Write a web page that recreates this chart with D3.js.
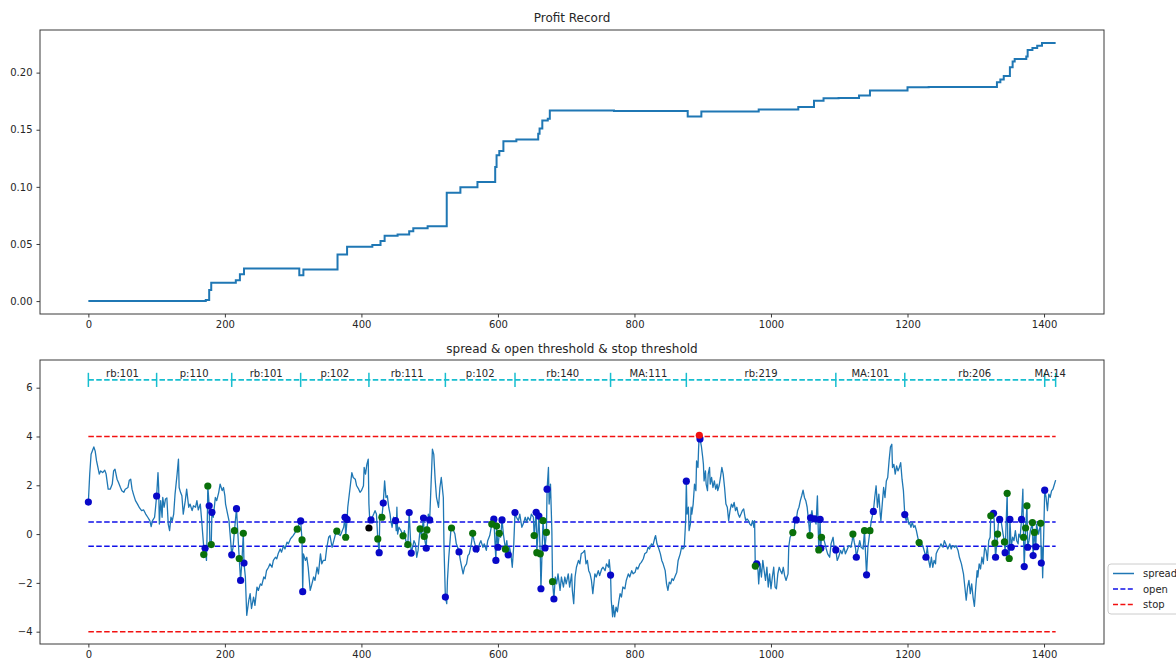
<!DOCTYPE html>
<html>
<head>
<meta charset="utf-8">
<script src="https://cdn.jsdelivr.net/npm/d3@7"></script>
<style>
  body { margin: 0; background: #fff; }
  svg { display: block; font-family: "DejaVu Sans", sans-serif; }
</style>
</head>
<body>
<svg id="chart" width="1176" height="661"></svg>
<script>
// ---- cumulative profit (step changes: bar index -> profit level) ----
const profitIdx = [0, 172, 177, 180, 216, 222, 228, 309, 315, 365, 379, 416, 428, 434, 453, 470, 476, 497,
  525, 545, 570, 596, 598, 602, 608, 627, 659, 661, 665, 673, 676, 770, 878, 898, 982, 1040, 1063, 1077,
  1099, 1129, 1145, 1200, 1231, 1331, 1336, 1341, 1350, 1354, 1357, 1374, 1376, 1383, 1390, 1397, 1417];
const profitVal = [0, 0.001, 0.0096, 0.016, 0.0183, 0.0236, 0.0285, 0.0227, 0.0277, 0.0408, 0.0475, 0.049,
  0.0527, 0.0571, 0.0582, 0.0611, 0.0638, 0.0655, 0.0949, 0.0996, 0.1043, 0.1174, 0.1276, 0.1313, 0.140,
  0.1415, 0.1465, 0.151, 0.158, 0.1596, 0.1669, 0.1663, 0.1616, 0.166, 0.1677, 0.170, 0.1753, 0.1776,
  0.1778, 0.180, 0.1843, 0.1872, 0.1875, 0.1916, 0.1939, 0.1971, 0.2047, 0.2097, 0.212, 0.214, 0.2199,
  0.2216, 0.2236, 0.226, 0.226];

// ---- spread series: [bar index, spread] ----
const spread = [
  [0,1.31],[2,2.46],[4,3.27],[8,3.57],[10,3.4],[12,3.0],[14,2.73],[16,2.46],[18,2.59],[21,2.52],[24,2.62],
  [26,2.46],[29,1.84],[32,1.84],[35,2.05],[37,2.59],[39,2.66],[42,2.25],[44,2.12],[47,1.91],[49,1.78],
  [52,1.71],[54,1.84],[58,1.91],[60,2.21],[62,2.25],[64,1.84],[66,1.64],[69,1.37],[72,1.23],[75,1.07],
  [78,0.96],[81,0.99],[84,0.82],[87,0.69],[90,0.55],[92,0.31],[94,0.55],[97,0.69],[98,0.96],[100,1.56],
  [102,2.52],[103,1.91],[104,0.41],[106,1.37],[108,0.69],[109,1.5],[111,1.1],[113,1.44],[115,1.48],
  [117,0.41],[119,0.14],[121,0.69],[123,0.55],[125,0.82],[127,1.64],[130,2.46],[132,3.07],[133,1.91],
  [135,1.71],[137,1.57],[139,0.82],[142,1.37],[144,1.84],[147,1.1],[149,1.23],[152,0.96],[154,1.16],
  [157,1.1],[159,1.37],[161,0.99],[164,1.23],[166,0.55],[169,-0.54],[171,-0.58],[173,-1.08],[174,0.14],
  [175,1.97],[177,1.16],[178,-0.4],[180,-0.43],[181,0.89],[183,0.69],[186,1.5],[188,1.37],[191,1.71],
  [193,2.05],[196,1.78],[198,1.91],[200,1.57],[201,1.23],[204,0.82],[206,0.55],[208,-0.13],[210,-0.85],
  [212,-0.54],[214,0.14],[217,1.04],[218,0.55],[221,-1.0],[223,-1.9],[225,-1.08],[227,0.03],[228,-1.19],
  [230,-1.76],[232,-3.33],[235,-2.72],[237,-2.44],[239,-3.05],[242,-2.58],[244,-2.92],[247,-2.17],
  [249,-2.31],[252,-2.04],[254,-2.1],[257,-1.76],[259,-1.83],[261,-1.5],[264,-1.36],[266,-1.22],
  [269,-1.36],[271,-1.08],[274,-0.95],[276,-1.01],[278,-0.81],[281,-0.61],[283,-0.74],[286,-0.47],
  [288,-0.61],[291,-0.33],[293,-0.4],[296,-0.2],[298,-0.13],[300,-0.06],[303,0.07],[306,0.2],[308,0.35],
  [311,0.54],[313,-0.24],[314,-2.36],[315,-0.81],[318,-1.08],[320,-0.95],[322,-1.36],[325,-2.31],
  [327,-2.1],[330,-1.76],[332,-1.9],[335,-1.36],[337,-1.63],[340,-0.81],[342,-1.22],[344,-1.08],
  [347,-1.08],[349,-0.61],[352,-0.13],[354,-0.06],[357,-0.54],[359,-0.33],[362,0.0],[364,0.12],[366,0.0],
  [369,-0.06],[371,0.07],[374,0.28],[376,0.69],[377,-0.13],[379,0.6],[380,1.1],[384,2.05],[386,2.52],
  [388,2.32],[391,2.25],[393,1.98],[396,1.84],[398,1.71],[400,1.78],[403,1.98],[404,2.73],[406,2.46],
  [408,2.86],[410,3.07],[411,1.23],[412,0.69],[414,0.58],[416,0.69],[418,0.82],[420,0.96],[422,0.82],
  [424,-0.2],[426,-0.76],[427,0.82],[430,0.69],[432,1.27],[434,2.18],[436,1.5],[438,1.57],[440,1.1],
  [442,0.82],[443,0.55],[445,0.28],[447,0.69],[450,0.55],[451,0.14],[452,1.1],[453,0.0],[455,0.28],
  [458,0.14],[461,-0.07],[463,0.14],[465,-0.27],[468,-0.43],[470,0.88],[472,-0.27],[473,-0.78],
  [475,-0.54],[477,-0.27],[479,-0.4],[481,-0.95],[483,-0.67],[486,0.21],[488,-0.06],[491,0.66],[492,-0.1],
  [495,-0.58],[496,0.17],[498,0.82],[500,0.58],[503,2.73],[504,3.48],[506,3.27],[508,2.25],[510,1.5],
  [513,1.1],[515,1.91],[517,2.32],[518,2.05],[520,1.5],[521,-0.54],[523,-2.58],[525,-2.85],[526,-1.9],
  [528,-0.95],[531,0.14],[532,0.25],[535,0.14],[537,0.0],[539,-0.4],[541,-0.54],[543,-0.73],[545,-1.08],
  [547,-1.36],[549,-1.63],[551,-1.36],[554,-1.22],[556,-0.88],[558,-0.81],[561,-0.4],[563,0.03],
  [565,-0.27],[568,-0.61],[570,-0.74],[573,-0.4],[575,-0.27],[578,-0.54],[580,-0.4],[583,-0.67],
  [585,-0.27],[588,-0.06],[591,0.41],[594,0.61],[597,-1.08],[598,0.33],[600,-0.54],[602,0.03],[604,-0.13],
  [606,0.58],[608,0.0],[611,-0.62],[613,-0.27],[615,-0.85],[617,-0.54],[619,-0.81],[621,-1.36],[623,-0.54],
  [625,0.88],[627,0.69],[630,0.55],[632,0.82],[635,0.28],[637,0.41],[640,0.69],[642,0.48],[644,0.69],
  [647,0.55],[649,0.82],[652,0.69],[653,-0.06],[656,0.89],[657,-0.76],[660,0.74],[662,-0.81],[663,-2.24],
  [666,0.55],[669,-0.57],[671,0.07],[672,1.84],[674,2.73],[675,1.23],[677,2.05],[679,0.14],[680,-1.95],
  [682,-2.66],[684,-1.76],[686,-2.04],[688,-1.63],[691,-2.31],[693,-1.76],[696,-2.17],[698,-1.76],
  [700,-2.04],[703,-1.63],[705,-2.17],[708,-1.63],[709,-2.31],[711,-2.85],[713,-1.76],[715,-1.36],
  [718,-1.08],[720,-1.22],[722,-0.81],[725,-0.74],[727,-0.67],[729,-1.22],[731,-1.08],[733,-1.5],
  [735,-1.63],[737,-1.9],[739,-2.44],[741,-1.9],[742,-1.63],[744,-1.76],[747,-1.5],[749,-1.7],[752,-1.43],
  [754,-1.36],[757,-1.5],[759,-1.22],[762,-1.36],[763,-1.05],[764,-1.36],[765,-1.68],[766,-2.71],
  [768,-3.39],[769,-2.92],[771,-3.39],[773,-2.99],[775,-3.19],[777,-2.78],[779,-2.44],[781,-2.58],
  [783,-2.17],[786,-2.24],[788,-1.9],[791,-1.63],[793,-1.76],[796,-1.5],[798,-1.63],[801,-1.56],
  [803,-1.36],[805,-1.43],[808,-1.22],[810,-1.16],[813,-1.01],[815,-0.81],[818,-0.74],[820,-0.54],
  [822,-0.61],[825,-0.4],[827,-0.47],[830,-0.13],[831,-0.06],[833,-0.4],[835,-0.54],[838,-0.81],
  [840,-1.08],[842,-1.22],[845,-1.5],[847,-2.04],[849,-2.31],[851,-1.97],[853,-2.04],[855,-1.83],
  [857,-1.9],[860,-1.7],[862,-1.56],[864,-1.08],[867,-0.81],[869,-0.54],[871,-0.61],[873,-0.54],[875,0.55],
  [876,2.17],[877,0.82],[879,1.1],[880,0.14],[882,0.41],[883,1.1],[884,0.82],[886,1.23],[888,2.05],
  [890,1.78],[891,3.0],[893,2.73],[894,3.54],[895,4.05],[896,3.9],[898,3.61],[900,3.14],[901,2.86],
  [902,2.18],[904,2.59],[905,2.05],[907,1.78],[908,2.46],[910,2.73],[911,2.05],[913,2.32],[915,1.91],
  [917,2.18],[919,1.84],[921,2.05],[922,1.78],[924,1.98],[926,2.32],[928,2.73],[930,2.46],[932,1.91],
  [934,1.23],[936,1.1],[938,0.55],[940,0.96],[942,1.23],[944,1.1],[946,1.3],[948,0.96],[950,1.1],
  [952,0.82],[954,0.69],[956,0.82],[958,0.96],[960,1.03],[962,0.69],[963,0.55],[965,0.62],[967,0.55],
  [969,0.41],[971,0.35],[973,0.55],[975,0.28],[976,0.55],[977,-1.31],[979,-1.22],[981,-1.5],[982,-2.04],
  [984,-1.22],[986,-1.76],[988,-1.08],[990,-1.5],[992,-1.9],[994,-1.36],[996,-2.17],[998,-1.63],
  [1000,-2.24],[1002,-1.76],[1004,-1.36],[1006,-2.17],[1008,-2.24],[1010,-1.63],[1012,-1.36],[1014,-1.5],
  [1016,-1.63],[1018,-1.36],[1020,-1.7],[1022,-1.9],[1025,-1.63],[1026,-0.54],[1028,-0.13],[1032,0.06],
  [1034,0.14],[1035,0.55],[1037,0.58],[1039,0.96],[1041,1.1],[1043,1.37],[1045,1.57],[1047,1.8],
  [1049,1.5],[1051,1.37],[1053,1.1],[1055,0.55],[1057,-0.06],[1058,0.67],[1060,0.96],[1062,0.55],
  [1064,0.62],[1066,0.41],[1068,1.57],[1070,-0.65],[1072,0.6],[1073,-0.58],[1074,-0.13],[1076,-0.13],
  [1078,-0.27],[1081,-0.61],[1083,-0.81],[1086,-0.95],[1088,-0.4],[1091,-0.13],[1093,-0.67],[1095,-0.65],
  [1097,-1.08],[1099,-0.95],[1102,-0.67],[1104,-0.81],[1107,-0.54],[1109,-0.81],[1112,-0.61],[1114,-0.47],
  [1117,-0.54],[1119,-0.27],[1120,0.0],[1122,-0.33],[1124,-0.61],[1125,-0.95],[1128,-0.54],[1130,-0.27],
  [1132,-0.54],[1135,-0.61],[1137,0.14],[1139,-1.08],[1140,-1.67],[1142,-0.54],[1145,0.14],[1147,0.55],
  [1150,0.93],[1152,1.5],[1154,1.98],[1156,1.1],[1158,1.64],[1160,0.82],[1161,0.55],[1163,1.23],
  [1165,1.91],[1167,1.5],[1169,2.18],[1171,2.32],[1173,3.0],[1175,3.57],[1177,3.68],[1178,2.73],
  [1180,2.86],[1182,2.46],[1184,2.79],[1186,2.59],[1188,2.73],[1190,2.93],[1192,2.25],[1194,1.78],
  [1196,0.8],[1198,0.55],[1200,0.69],[1202,0.41],[1203,0.48],[1205,0.28],[1207,0.48],[1209,0.28],
  [1211,0.35],[1213,0.14],[1215,-0.13],[1217,-0.35],[1219,-0.27],[1221,-0.4],[1223,-0.54],[1225,-0.74],
  [1227,-0.95],[1229,-0.54],[1231,-1.08],[1233,-1.36],[1235,-0.95],[1237,-1.36],[1239,-1.08],[1241,-1.22],
  [1242,-0.81],[1244,-0.67],[1247,-0.54],[1249,-0.4],[1252,-0.54],[1254,-0.27],[1257,-0.47],[1259,-0.61],
  [1262,-0.4],[1264,-0.61],[1266,-0.47],[1269,-0.54],[1271,-0.47],[1274,-0.67],[1276,-0.95],[1279,-1.22],
  [1281,-1.5],[1282,-1.63],[1284,-2.17],[1286,-2.71],[1288,-2.17],[1290,-1.9],[1292,-2.44],[1294,-2.04],
  [1296,-2.58],[1298,-2.96],[1300,-2.17],[1302,-1.5],[1303,-1.76],[1305,-1.22],[1307,-1.43],[1309,-0.95],
  [1311,-1.22],[1313,-0.54],[1315,-0.67],[1317,-1.08],[1319,-0.27],[1321,-0.13],[1322,0.75],[1324,0.69],
  [1326,0.85],[1327,0.55],[1328,-0.37],[1329,-0.95],[1332,0.0],[1333,0.41],[1335,0.6],[1337,0.55],
  [1340,0.0],[1342,-0.32],[1343,-0.76],[1346,1.67],[1347,-0.54],[1349,-1.0],[1350,0.6],[1352,-0.54],
  [1354,-0.13],[1356,-0.27],[1358,0.14],[1360,-0.27],[1362,-0.4],[1363,0.0],[1365,-0.13],[1367,0.6],
  [1369,1.84],[1370,-0.13],[1371,-1.33],[1373,0.25],[1375,1.16],[1376,-0.54],[1378,-0.27],[1380,0.14],
  [1383,0.47],[1384,-0.88],[1386,0.07],[1388,-0.52],[1389,0.41],[1392,0.0],[1395,0.44],[1396,-1.19],
  [1397,-0.54],[1398,-1.79],[1400,0.55],[1401,1.8],[1403,1.5],[1405,0.96],[1407,1.64],[1409,1.5],
  [1411,1.77],[1413,1.84],[1417,2.21]
];

// ---- trade events on the spread: [bar index, spread] ----
const openEvents = [[0,1.31],[100,1.56],[171,-0.58],[177,1.16],[181,0.89],[210,-0.85],[217,1.04],[223,-1.9],
  [228,-1.19],[311,0.54],[314,-2.36],[376,0.69],[379,0.6],[414,0.58],[426,-0.76],[432,1.27],[450,0.55],
  [470,0.88],[473,-0.78],[491,0.66],[495,-0.58],[500,0.58],[523,-2.58],[543,-0.73],[568,-0.61],[594,0.61],
  [597,-1.08],[600,-0.54],[606,0.58],[615,-0.85],[625,0.88],[656,0.89],[660,0.74],[663,-2.24],[669,-0.57],
  [672,1.84],[682,-2.66],[765,-1.68],[876,2.17],[896,3.9],[979,-1.22],[1037,0.58],[1058,0.67],[1064,0.62],
  [1072,0.6],[1073,-0.58],[1095,-0.65],[1125,-0.95],[1140,-1.67],[1150,0.93],[1196,0.8],[1227,-0.95],
  [1326,0.85],[1329,-0.95],[1335,0.6],[1343,-0.76],[1350,0.6],[1352,-0.54],[1367,0.6],[1371,-1.33],
  [1376,-0.54],[1384,-0.88],[1388,-0.52],[1396,-1.19],[1401,1.8]];
const closeEvents = [[169,-0.84],[175,1.97],[180,-0.43],[214,0.14],[221,-1.0],[227,0.03],[306,0.2],[313,-0.24],
  [364,0.12],[377,-0.13],[424,-0.2],[430,0.69],[461,-0.07],[468,-0.43],[486,0.21],[492,-0.1],[496,0.17],
  [532,0.25],[563,0.03],[591,0.41],[598,0.33],[602,0.03],[611,-0.62],[653,-0.06],[657,-0.76],[662,-0.81],
  [666,0.55],[671,0.07],[680,-1.95],[977,-1.31],[1032,0.06],[1057,-0.06],[1070,-0.65],[1074,-0.13],
  [1120,0.0],[1137,0.14],[1145,0.14],[1217,-0.35],[1322,0.75],[1328,-0.37],[1332,0.0],[1342,-0.32],
  [1346,1.67],[1349,-1.0],[1370,-0.13],[1373,0.25],[1375,1.16],[1383,0.47],[1386,0.07],[1395,0.44]];
const stopEvents = [[895,4.05]];
const switchEvents = [[411,0.25]];

// ---- contract segments along the top of the spread panel ----
const segBounds = [0, 100, 210, 311, 411, 523, 625, 765, 876, 1095, 1196, 1401, 1417];
const segLabels = ["rb:101", "p:110", "rb:101", "p:102", "rb:111", "p:102", "rb:140",
  "MA:111", "rb:219", "MA:101", "rb:206", "MA:14"];
const segLevel = 6.32;

const openThreshold = 0.5;
const stopThreshold = 4;
const lastIdx = 1417;

const xTicks = [0, 200, 400, 600, 800, 1000, 1200, 1400];
const profitTicks = [0, 0.05, 0.10, 0.15, 0.20];
const spreadTicks = [-4, -2, 0, 2, 4, 6];

// ---------------------------------------------------------------
const svg = d3.select("#chart");
const L = 40, R = 1104;
const top1 = 30, bot1 = 314, top2 = 360, bot2 = 644;
const BLUE = "#1f77b4";
const TXT = "#262626";

const x = d3.scaleLinear().domain([-70.85, 1487.85]).range([L, R]);
const yP = d3.scaleLinear().domain([-0.0113, 0.2373]).range([bot1, top1]);
const yS = d3.scaleLinear().domain([-4.505, 7.135]).range([bot2, top2]);

const minus = v => (v < 0 ? "\u2212" + Math.abs(v) : String(v));

function frame(yTop, yBot) {
  svg.append("rect").attr("x", L).attr("y", yTop).attr("width", R - L).attr("height", yBot - yTop)
    .attr("fill", "none").attr("stroke", "#3a3a3a").attr("stroke-width", 1);
}

function axes(yScale, yBot, yTickVals, yFmt) {
  const gx = svg.append("g").attr("transform", `translate(0,${yBot})`)
    .call(d3.axisBottom(x).tickValues(xTicks).tickSize(3.5).tickPadding(3.5).tickFormat(d => d));
  const gy = svg.append("g").attr("transform", `translate(${L},0)`)
    .call(d3.axisLeft(yScale).tickValues(yTickVals).tickSize(3.5).tickPadding(4).tickFormat(yFmt));
  [gx, gy].forEach(g => {
    g.select(".domain").remove();
    g.selectAll("line").attr("stroke", "#3a3a3a");
    g.selectAll("text").attr("fill", TXT).style("font-size", "10px").style("font-family", "DejaVu Sans");
  });
}

// ---- top panel: profit record ----
svg.append("text").attr("x", (L + R) / 2).attr("y", 22).attr("text-anchor", "middle")
  .style("font-size", "12px").attr("fill", TXT).text("Profit Record");

const profitData = profitIdx.map((d, i) => [d, profitVal[i]]);
svg.append("path").datum(profitData)
  .attr("fill", "none").attr("stroke", BLUE).attr("stroke-width", 2)
  .attr("d", d3.line().x(d => x(d[0])).y(d => yP(d[1])).curve(d3.curveStepAfter));

frame(top1, bot1);
axes(yP, bot1, profitTicks, d3.format(".2f"));

// ---- bottom panel: spread, thresholds and events ----
svg.append("text").attr("x", (L + R) / 2).attr("y", 353).attr("text-anchor", "middle")
  .style("font-size", "12px").attr("fill", TXT).text("spread & open threshold & stop threshold");

const clip = svg.append("clipPath").attr("id", "clip2").append("rect")
  .attr("x", L).attr("y", top2).attr("width", R - L).attr("height", bot2 - top2);
const g2 = svg.append("g").attr("clip-path", "url(#clip2)");

function hDash(v, color, width) {
  g2.append("line").attr("x1", x(0)).attr("x2", x(lastIdx)).attr("y1", yS(v)).attr("y2", yS(v))
    .attr("stroke", color).attr("stroke-width", width).attr("stroke-dasharray", "5.5,2.4");
}
hDash(segLevel, "#17becf", 1.8);
hDash(openThreshold, "#1010e8", 1.5);
hDash(-openThreshold, "#1010e8", 1.5);
hDash(stopThreshold, "#f21010", 1.5);
hDash(-stopThreshold, "#f21010", 1.5);

// segment boundary ticks and contract labels
g2.selectAll(".segtick").data(segBounds).enter().append("line")
  .attr("x1", d => x(d)).attr("x2", d => x(d))
  .attr("y1", yS(segLevel - 0.29)).attr("y2", yS(segLevel + 0.29))
  .attr("stroke", "#17becf").attr("stroke-width", 1.5);
svg.selectAll(".seglabel").data(segLabels).enter().append("text")
  .attr("x", (d, i) => x((segBounds[i] + segBounds[i + 1]) / 2))
  .attr("y", yS(segLevel + 0.1)).attr("text-anchor", "middle")
  .style("font-size", "10px").attr("fill", TXT).text(d => d);

g2.append("path").datum(spread)
  .attr("fill", "none").attr("stroke", BLUE).attr("stroke-width", 1.3).attr("stroke-linejoin", "round")
  .attr("d", d3.line().x(d => x(d[0])).y(d => yS(d[1])));

function dots(data, color) {
  g2.append("g").selectAll("circle").data(data).enter().append("circle")
    .attr("cx", d => x(d[0])).attr("cy", d => yS(d[1])).attr("r", 3.6).attr("fill", color);
}
dots(openEvents, "#0808c8");
dots(closeEvents, "#0a700a");
dots(switchEvents, "#000000");
dots(stopEvents, "#f01010");

frame(top2, bot2);
axes(yS, bot2, spreadTicks, minus);

// ---- legend ----
const lg = svg.append("g").attr("transform", "translate(1108,564)");
lg.append("rect").attr("width", 90).attr("height", 50).attr("rx", 3)
  .attr("fill", "#fff").attr("fill-opacity", 0.9).attr("stroke", "#cccccc");
const legendItems = [
  { label: "spread", color: BLUE, dash: null },
  { label: "open", color: "#1010e8", dash: "5,2.4" },
  { label: "stop", color: "#f21010", dash: "5,2.4" }
];
legendItems.forEach((it, i) => {
  const yy = 9.5 + i * 15.5;
  lg.append("line").attr("x1", 5).attr("x2", 26).attr("y1", yy).attr("y2", yy)
    .attr("stroke", it.color).attr("stroke-width", 1.5)
    .attr("stroke-dasharray", it.dash);
  lg.append("text").attr("x", 35).attr("y", yy).attr("dy", "0.35em")
    .style("font-size", "10px").attr("fill", TXT).text(it.label);
});
</script>
</body>
</html>
